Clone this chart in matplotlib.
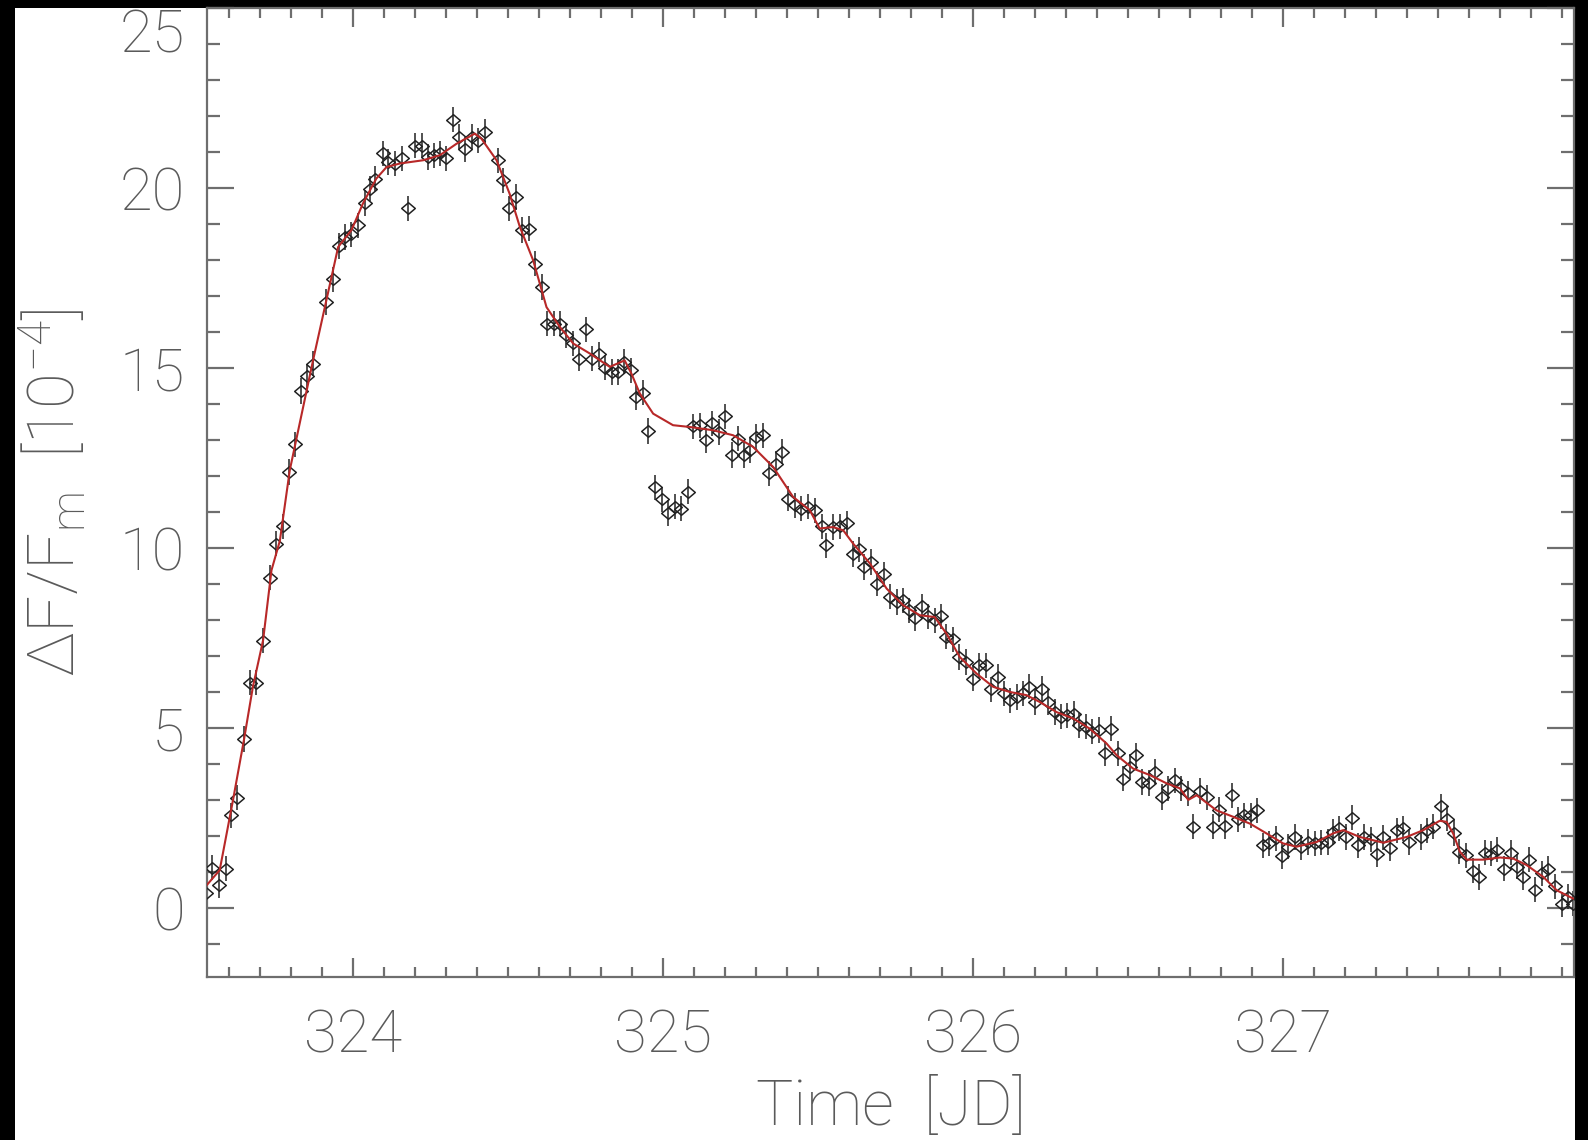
import numpy as np
import matplotlib.pyplot as plt
from matplotlib.patches import Rectangle
from matplotlib.path import Path
from matplotlib.ticker import MultipleLocator

# === Data ===
time_jd = [
    323.527, 323.546, 323.568, 323.589, 323.608, 323.627, 323.648, 323.667, 323.688, 323.710,
    323.731, 323.752, 323.774, 323.793, 323.812, 323.831, 323.853, 323.871, 323.914, 323.934,
    323.954, 323.973, 323.995, 324.016, 324.038, 324.054, 324.070, 324.097, 324.113, 324.135,
    324.159, 324.177, 324.199, 324.221, 324.242, 324.261, 324.280, 324.301, 324.321, 324.342,
    324.360, 324.384, 324.403, 324.425, 324.468, 324.484, 324.503, 324.527, 324.546, 324.568,
    324.586, 324.608, 324.626, 324.647, 324.669, 324.688, 324.710, 324.728, 324.750, 324.771,
    324.793, 324.812, 324.834, 324.855, 324.874, 324.895, 324.914, 324.935, 324.952, 324.973,
    324.995, 325.016, 325.038, 325.059, 325.079, 325.097, 325.118, 325.138, 325.159, 325.180,
    325.199, 325.221, 325.242, 325.260, 325.280, 325.301, 325.323, 325.342, 325.364, 325.385,
    325.403, 325.425, 325.446, 325.468, 325.489, 325.511, 325.526, 325.548, 325.570, 325.592,
    325.611, 325.632, 325.648, 325.672, 325.690, 325.712, 325.731, 325.753, 325.774, 325.794,
    325.814, 325.834, 325.855, 325.876, 325.895, 325.912, 325.934, 325.955, 325.976, 325.998,
    326.019, 326.041, 326.059, 326.081, 326.099, 326.118, 326.140, 326.161, 326.181, 326.199,
    326.221, 326.242, 326.264, 326.282, 326.303, 326.325, 326.342, 326.364, 326.385, 326.406,
    326.425, 326.446, 326.468, 326.484, 326.505, 326.525, 326.546, 326.568, 326.586, 326.608,
    326.629, 326.651, 326.672, 326.692, 326.710, 326.731, 326.753, 326.774, 326.793, 326.813,
    326.835, 326.854, 326.873, 326.895, 326.916, 326.935, 326.955, 326.976, 326.995, 327.016,
    327.038, 327.059, 327.081, 327.102, 327.122, 327.143, 327.161, 327.181, 327.202, 327.223,
    327.242, 327.261, 327.282, 327.304, 327.323, 327.344, 327.366, 327.385, 327.406, 327.444,
    327.465, 327.484, 327.508, 327.527, 327.551, 327.568, 327.590, 327.611, 327.632, 327.651,
    327.669, 327.690, 327.712, 327.734, 327.753, 327.772, 327.794, 327.812, 327.834, 327.855,
    327.876, 327.898, 327.919, 327.935,
]
flux = [
    0.40, 1.12, 0.63, 1.09, 2.57, 3.06, 4.69, 6.26, 6.26, 7.42,
    9.17, 10.12, 10.60, 12.11, 12.88, 14.36, 14.77, 15.12, 16.83, 17.46,
    18.39, 18.64, 18.71, 18.96, 19.58, 19.98, 20.26, 20.96, 20.72, 20.68,
    20.82, 19.43, 21.17, 21.17, 20.86, 20.91, 20.96, 20.82, 21.90, 21.42,
    21.07, 21.42, 21.31, 21.56, 20.77, 20.21, 19.43, 19.75, 18.83, 18.87,
    17.90, 17.25, 16.23, 16.23, 16.23, 15.91, 15.68, 15.26, 16.07, 15.26,
    15.38, 15.01, 14.89, 14.89, 15.17, 14.94, 14.19, 14.31, 13.25, 11.69,
    11.35, 10.97, 11.14, 11.09, 11.56, 13.38, 13.41, 12.99, 13.46, 13.22,
    13.66, 12.58, 13.04, 12.58, 12.71, 13.08, 13.13, 12.07, 12.34, 12.67,
    11.37, 11.19, 11.09, 11.14, 11.05, 10.60, 10.07, 10.58, 10.60, 10.68,
    9.83, 9.96, 9.47, 9.61, 9.01, 9.27, 8.64, 8.50, 8.55, 8.27,
    8.04, 8.38, 8.10, 7.99, 8.10, 7.53, 7.46, 6.97, 6.83, 6.37,
    6.74, 6.74, 6.07, 6.42, 5.96, 5.77, 5.86, 5.96, 6.14, 5.72,
    6.09, 5.72, 5.44, 5.31, 5.35, 5.40, 5.07, 5.03, 4.89, 4.94,
    4.29, 4.98, 4.29, 3.59, 3.92, 4.24, 3.50, 3.47, 3.78, 3.08,
    3.32, 3.55, 3.32, 3.18, 2.25, 3.25, 3.07, 2.25, 2.73, 2.27,
    3.13, 2.46, 2.57, 2.57, 2.71, 1.74, 1.79, 1.93, 1.44, 1.70,
    1.97, 1.68, 1.83, 1.79, 1.81, 1.83, 2.11, 2.21, 1.97, 2.51,
    1.74, 1.97, 1.90, 1.49, 1.96, 1.65, 2.16, 2.21, 1.83, 1.97,
    2.16, 2.25, 2.82, 2.48, 2.08, 1.56, 1.46, 1.03, 0.86, 1.53,
    1.51, 1.62, 1.09, 1.53, 1.14, 0.86, 1.34, 0.51, 0.96, 1.09,
    0.60, 0.10, 0.31, 0.12,
]
flux_err = 0.35

# fitted model (red curve)
fit_time = [
    323.528, 323.570, 323.613, 323.648, 323.677, 323.710, 323.737, 323.764, 323.796, 323.871,
    323.914, 323.952, 323.995, 324.032, 324.075, 324.108, 324.151, 324.226, 324.280, 324.334,
    324.393, 324.414, 324.463, 324.505, 324.538, 324.581, 324.624, 324.667, 324.710, 324.764,
    324.828, 324.876, 324.898, 324.925, 324.968, 325.032, 325.086, 325.161, 325.226, 325.290,
    325.355, 325.419, 325.473, 325.505, 325.548, 325.581, 325.613, 325.667, 325.721, 325.774,
    325.828, 325.876, 325.914, 325.957, 326.011, 326.065, 326.118, 326.172, 326.215, 326.269,
    326.323, 326.376, 326.430, 326.463, 326.516, 326.570, 326.624, 326.667, 326.694, 326.721,
    326.785, 326.839, 326.893, 326.946, 327.000, 327.043, 327.108, 327.161, 327.194, 327.247,
    327.323, 327.398, 327.452, 327.505, 327.527, 327.548, 327.570, 327.592, 327.645, 327.699,
    327.742, 327.785, 327.839, 327.882, 327.935,
]
fit_flux = [
    0.63, 1.05, 3.00, 4.66, 6.14, 7.44, 9.38, 10.20, 12.16, 15.21,
    16.88, 18.36, 18.83, 19.57, 20.26, 20.58, 20.68, 20.77, 20.91, 21.23,
    21.51, 21.37, 20.77, 19.84, 18.92, 17.99, 16.69, 16.14, 15.68, 15.40,
    15.03, 15.21, 14.84, 14.29, 13.73, 13.41, 13.36, 13.27, 13.13, 12.81,
    12.25, 11.42, 11.05, 10.54, 10.58, 10.49, 10.12, 9.57, 8.87, 8.41,
    8.13, 8.08, 7.62, 6.97, 6.51, 6.14, 6.00, 5.91, 5.72, 5.44,
    5.26, 4.98, 4.57, 4.24, 3.87, 3.69, 3.46, 3.32, 3.00, 3.13,
    2.71, 2.53, 2.34, 2.07, 1.79, 1.70, 1.83, 2.07, 2.16, 1.97,
    1.81, 1.97, 2.16, 2.42, 2.39, 2.07, 1.56, 1.34, 1.34, 1.40,
    1.37, 1.19, 0.86, 0.49, 0.26,
]

# === Style ===
W, H = 1588, 1140
FONT = "Roboto"
TXT = "#5a5a5a"
AXC = "#6e6e6e"
FS = 43
plt.rcParams["font.family"] = [FONT, "DejaVu Sans"]
plt.rcParams["mathtext.fontset"] = "custom"
plt.rcParams["mathtext.rm"] = FONT + ":light"
plt.rcParams["mathtext.it"] = FONT + ":light"

fig = plt.figure(figsize=(W / 100, H / 100), dpi=100, facecolor="black")
fig.patches.append(Rectangle((15 / W, 0), (1575 - 15) / W, 1 - 8 / H,
                             transform=fig.transFigure, facecolor="white",
                             edgecolor="none", zorder=-5))

ax = fig.add_axes([207 / W, 1 - 977 / H, (1574 - 207) / W, (977 - 8) / H])
ax.set_facecolor("white")

diamond = Path([(-1, 0), (0, 0.85), (1, 0), (0, -0.85), (-1, 0)],
               [Path.MOVETO, Path.LINETO, Path.LINETO, Path.LINETO, Path.CLOSEPOLY])

ax.errorbar(time_jd, flux, yerr=flux_err, fmt="none", ecolor="#222222",
            elinewidth=1.1, capsize=0, zorder=2)
ax.plot(time_jd, flux, linestyle="none", marker=diamond, markersize=9.8,
        markerfacecolor="none", markeredgecolor="#222222", markeredgewidth=1.1,
        zorder=3)
ax.plot(fit_time, fit_flux, color="#b82828", linewidth=1.5, zorder=4)

ax.set_xlim(323.529, 327.938)
ax.set_ylim(-1.92, 25)

ax.xaxis.set_major_locator(MultipleLocator(1))
ax.xaxis.set_minor_locator(MultipleLocator(0.1))
ax.set_yticks([0, 5, 10, 15, 20, 25])
ax.yaxis.set_minor_locator(MultipleLocator(1))

for s in ax.spines.values():
    s.set_color(AXC)
    s.set_linewidth(1.6)

ax.tick_params(axis="both", which="both", direction="in", top=True, right=True,
               color=AXC, width=1.6, labelcolor=TXT, labelsize=FS)
ax.tick_params(axis="x", which="major", length=14, pad=22)
ax.tick_params(axis="x", which="minor", length=7.5)
ax.tick_params(axis="y", which="major", length=19.5, pad=16)
ax.tick_params(axis="y", which="minor", length=9.5)

for lab in ax.get_xticklabels() + ax.get_yticklabels():
    lab.set_fontweight("light")
ax.get_yticklabels()[-1].set_verticalalignment("top")

ax.set_xlabel("Time  [JD]", fontsize=FS + 2, color=TXT, fontweight="light", va="bottom")
ax.xaxis.set_label_coords(0.5, -0.166)
ax.set_ylabel(r"$\Delta$F/F$_{\rm m}$  [10$^{-4}$]", fontsize=FS + 4, color=TXT,
              fontweight="light", va="center")
ax.yaxis.set_label_coords(-0.113, 0.5)

fig.savefig("out.png", dpi=100, facecolor=fig.get_facecolor())
